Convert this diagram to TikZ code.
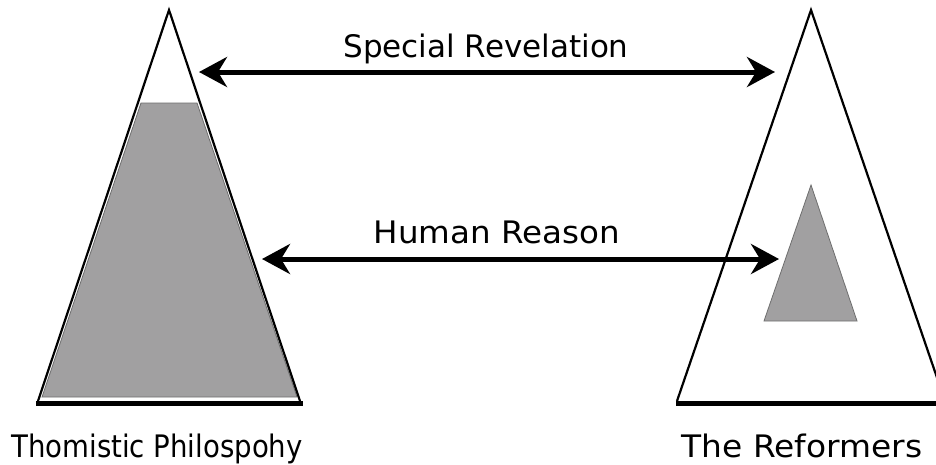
\documentclass[tikz,border=0pt]{standalone}
\usepackage{fontspec}
\setmainfont{DejaVu Sans}
\usepackage{xcolor}
\usetikzlibrary{arrows.meta}
\definecolor{shadegray}{RGB}{161, 160, 161}
\definecolor{edgegray}{RGB}{110, 110, 110}
\tikzset{
  outline/.style={draw=black,line width=2.2pt,line join=miter},
  basebar/.style={line width=5pt},
  shaded/.style={fill=shadegray,draw=edgegray,line width=0.8pt},
  twoway/.style={line width=5pt,{Stealth[length=28pt,width=30pt,inset=9pt]}-{Stealth[length=28pt,width=30pt,inset=9pt]}},
  label/.style={font=\fontsize{31}{36}\selectfont,inner sep=0pt,anchor=base}
}

\begin{document}
\begin{tikzpicture}[x=1pt,y=-1pt]
        \clip (0,0) rectangle (936,464);
        \fill[white] (0,0) rectangle (936,464);
        % Left triangle with shaded trapezoid
        \fill[white] (169,10) -- (300,401) -- (38,401) -- cycle;
        \draw[shaded] (141,103) -- (197,103) -- (297,397) -- (42,397) -- cycle;
        \draw[outline] (38,401) -- (169,10) -- (300,401);
        \draw[basebar] (36,403.5) -- (303,403.5);
        % Right triangle with small shaded triangle
        \draw[outline] (677,401) -- (811,10) -- (945,401);
        \draw[basebar] (676,403.5) -- (950,403.5);
        \draw[shaded] (811,185) -- (857,321) -- (764,321) -- cycle;
        % Arrow end points
        \coordinate (revL) at (199,72);
        \coordinate (revR) at (775,72);
        \coordinate (reaL) at (262,259);
        \coordinate (reaR) at (779,259);
        \draw[twoway] (revL) -- (revR);
        \draw[twoway] (reaL) -- (reaR);
        % Labels
        \node[label] (revtext) at (486,57) {Special Revelation};
        \node[label] (reatext) at (497,243) {\scalebox{1.05}[1]{Human Reason}};
        \node[label] (thomist) at (157,457) {\scalebox{0.89}[1]{Thomistic Philospohy}};
        \node[label] (reformers) at (802,457) {\scalebox{1.06}[1]{The Reformers}};
    \end{tikzpicture}
\end{document}
